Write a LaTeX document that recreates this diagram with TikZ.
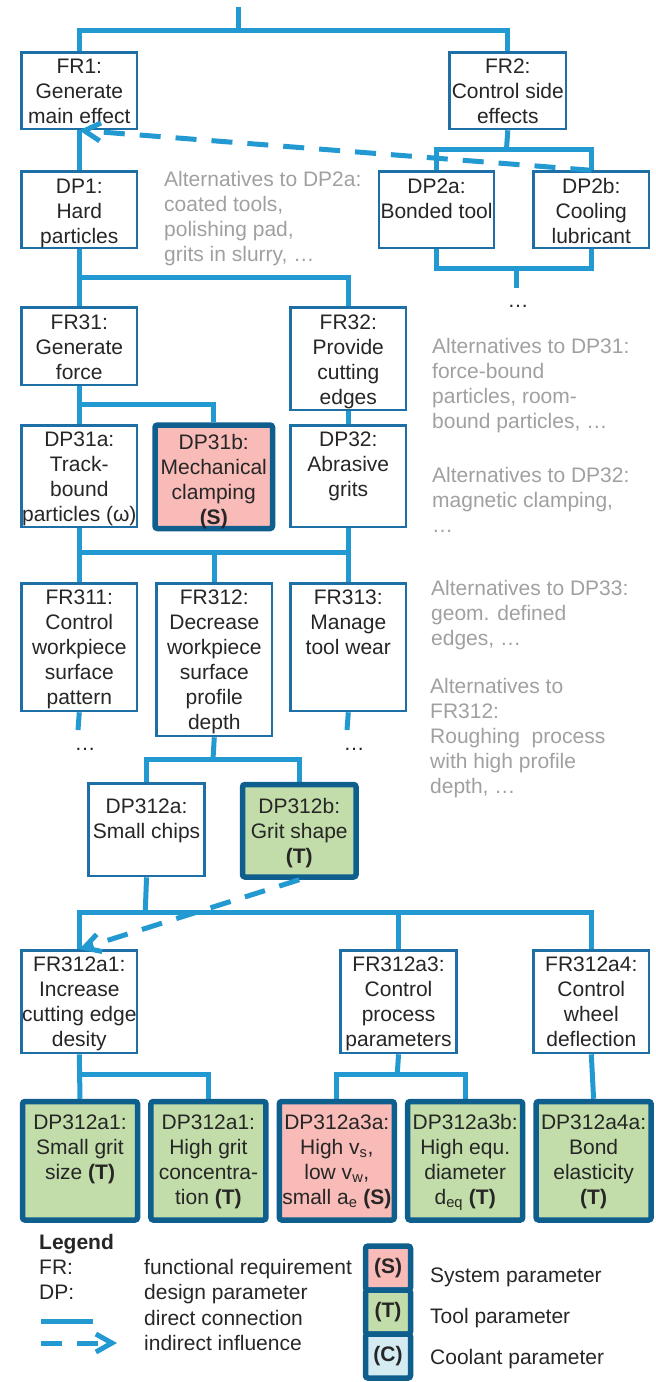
\documentclass[tikz,border=0pt]{standalone}
\usepackage{fontspec}
\setmainfont{Liberation Sans}
\usetikzlibrary{arrows.meta}
\definecolor{connc}{HTML}{2299D0}
\definecolor{boxc}{HTML}{1D6FA5}
\definecolor{thk}{HTML}{0E5F8E}
\definecolor{pinkf}{HTML}{F8BBB7}
\definecolor{greenf}{HTML}{C2DDA9}
\definecolor{bluef}{HTML}{D4EBF2}
\definecolor{txt}{HTML}{262626}
\definecolor{grayt}{HTML}{A0A0A0}
\pgfdeclarelayer{background}
\pgfsetlayers{background,main}
\newcommand\fs{\fontsize{21}{25}\selectfont}
\newcommand\TBox[8]{\node[#1,anchor=north west,xshift=1.3pt,yshift=-1.3pt] (#2) at (#3,#4) {\parbox[t][\dimexpr#6pt-2.6pt\relax][t]{\dimexpr#5pt-2.6pt\relax}{\centering\rule{0pt}{\dimexpr#7pt-1.3pt\relax}#8}};}
\newcommand\KBox[8]{\node[#1,anchor=north west,xshift=2.75pt,yshift=-2.75pt] (#2) at (#3,#4) {\parbox[t][\dimexpr#6pt-5.5pt\relax][t]{\dimexpr#5pt-5.5pt\relax}{\centering\rule{0pt}{\dimexpr#7pt-2.75pt\relax}#8}};}
\tikzset{
  tbx/.style={draw=boxc, line width=2.6pt, fill=white, inner sep=0pt, text=txt, font=\fs},
  kbx/.style={draw=thk, line width=5.5pt, rounded corners=2.5pt, inner sep=0pt, text=txt, font=\fs},
  pbx/.style={kbx, fill=pinkf},
  gbx/.style={kbx, fill=greenf},
  conn/.style={draw=connc, line width=5pt},
  dasharr/.style={draw=connc, line width=5pt, dash pattern=on 21pt off 15pt, -{Straight Barb[length=16pt,width=18pt]}},
  gtxt/.style={text=grayt, font=\fs, align=left, inner sep=0pt, anchor=north west},
  ltxt/.style={text=txt, font=\fs, inner sep=0pt, anchor=base west},
  dots/.style={text=txt, font=\fs, inner sep=0pt, anchor=base},
}
\begin{document}
\begin{tikzpicture}[x=1pt,y=-1pt]
\useasboundingbox (0,0) rectangle (656,1382);
% coordinates of buses and free ends
\coordinate (top) at (238,7);
\coordinate (b0) at (238,30);
\coordinate (b1) at (506.5,149);
\coordinate (b2) at (516,268);
\coordinate (e2) at (516,288);
\coordinate (b3) at (78,277.5);
\coordinate (b4) at (78,404);
\coordinate (b5) at (78,552.5);
\coordinate (d1) at (78,730);
\coordinate (d3) at (347,730);
\coordinate (b6) at (213,759);
\coordinate (b7) at (145.25,912);
\coordinate (b8) at (78,1074);
\coordinate (b9) at (397.25,1074);

% ---------- nodes ----------
\TBox{tbx}{fr1}{19}{50}{118}{79}{22}{FR1:\\Generate\\main~effect}
\TBox{tbx}{fr2}{447}{50}{119}{79}{22}{FR2:\\Control~side\\effects}
\TBox{tbx}{dp1}{19}{169}{118}{79}{23}{DP1:\\Hard\\particles}
\TBox{tbx}{dp2a}{376.5}{169}{117.5}{79}{23}{DP2a:\\Bonded~tool}
\TBox{tbx}{dp2b}{531}{169}{118}{79}{23}{DP2b:\\Cooling\\lubricant}
\TBox{tbx}{fr31}{19}{305}{118}{80}{23}{FR31:\\Generate\\force}
\TBox{tbx}{fr32}{288}{305}{118}{105}{23}{FR32:\\Provide\\cutting\\edges}
\TBox{tbx}{dp31a}{19}{423}{118}{104}{22}{DP31a:\\Track-\\bound\\particles~(ω)}
\KBox{pbx}{dp31b}{149.5}{419.5}{123}{109}{27}{DP31b:\\Mechanical\\clamping\\\textbf{(S)}}
\TBox{tbx}{dp32}{288}{423}{118}{104}{22}{DP32:\\Abrasive\\grits}
\TBox{tbx}{fr311}{19}{581}{118}{130}{22.5}{FR311:\\Control\\workpiece\\surface\\pattern}
\TBox{tbx}{fr312}{154}{581}{118}{155}{22.5}{FR312:\\Decrease\\workpiece\\surface\\profile\\depth}
\TBox{tbx}{fr313}{288}{581}{118}{130}{22.5}{FR313:\\Manage\\tool~wear}
\TBox{tbx}{dp312a}{86}{781}{118.5}{95}{31}{DP312a:\\Small~chips}
\KBox{gbx}{dp312b}{237}{779}{119}{98}{32}{DP312b:\\Grit~shape\\\textbf{(T)}}
\TBox{tbx}{fr312a1}{19}{948}{118}{105}{22}{FR312a1:\\Increase\\cutting~edge\\desity}
\TBox{tbx}{fr312a3}{338}{948}{118.5}{105}{22}{FR312a3:\\Control\\process\\parameters}
\TBox{tbx}{fr312a4}{531}{948}{118}{105}{22}{FR312a4:\\Control\\wheel\\deflection}
\KBox{gbx}{dp312a1}{17}{1096}{120.5}{124}{31}{DP312a1:\\Small~grit\\size~\textbf{(T)}}
\KBox{gbx}{dp312a1b}{145.4}{1096}{120.5}{124}{31}{DP312a1:\\High~grit\\concentra-\\tion~\textbf{(T)}}
\KBox{pbx}{dp312a3a}{273.8}{1096}{120.5}{124}{31}{DP312a3a:\\High~v\textsubscript{s},\\low~v\textsubscript{w},\\small~a\textsubscript{e}~\textbf{(S)}}
\KBox{gbx}{dp312a3b}{402.2}{1096}{120.5}{124}{31}{DP312a3b:\\High~equ.\\diameter\\d\textsubscript{eq}~\textbf{(T)}}
\KBox{gbx}{dp312a4a}{530.6}{1096}{120.5}{124}{31}{DP312a4a:\\Bond\\elasticity\\\textbf{(T)}}

% ---------- connectors (behind boxes) ----------
\begin{pgfonlayer}{background}
\draw[conn] (top) -- (b0);
\draw[conn] (fr1.north) |- (b0) -| (fr2.north);
\draw[conn] (fr1.south) -- (dp1.north);
\draw[conn] (fr2.south) -- (b1);
\draw[conn] (dp2a.north) |- (b1) -| (dp2b.north);
\draw[conn] (dp2a.south) |- (b2) -| (dp2b.south);
\draw[conn] (b2) -- (e2);
\draw[conn] (dp1.south) -- (fr31.north);
\draw[conn] (b3) -| (fr32.north);
\draw[conn] (fr31.south) -- (dp31a.north);
\draw[conn] (b4) -| (dp31b.north);
\draw[conn] (fr32.south) -- (dp32.north);
\draw[conn] (dp31a.south) -- (fr311.north);
\draw[conn] (dp32.south) -- (fr313.north);
\draw[conn] (b5) -- (b5 -| fr313.north);
\draw[conn] (b5 -| fr312.north) -- (fr312.north);
\draw[conn] (fr311.south) -- (d1);
\draw[conn] (fr313.south) -- (d3);
\draw[conn] (fr312.south) -- (b6);
\draw[conn] (dp312a.north) |- (b6) -| (dp312b.north);
\draw[conn] (dp312a.south) -- (b7);
\draw[conn] (fr312a1.north) |- (b7) -| (fr312a4.north);
\draw[conn] (b7 -| fr312a3.north) -- (fr312a3.north);
\draw[conn] (fr312a1.south) -- (dp312a1.north);
\draw[conn] (b8) -| (dp312a1b.north);
\draw[conn] (fr312a3.south) -- (b9);
\draw[conn] (dp312a3a.north) |- (b9) -| (dp312a3b.north);
\draw[conn] (fr312a4.south) -- (dp312a4a.north);
\end{pgfonlayer}

% ---------- indirect influences ----------
\draw[dasharr] (dp2b.north) -- (fr1.south);
\draw[dasharr] (dp312b.south) -- (fr312a1.north);

% ---------- dots ----------
\node[dots] (dt2) at (518,307) {…};
\node[dots] (dt311) at (85,750) {…};
\node[dots] (dt313) at (354,750) {…};

% ---------- alternatives ----------
\node[gtxt] (alt1) at (164,166) {\rule{0pt}{20pt}Alternatives to DP2a:\\coated tools,\\polishing pad,\\grits in slurry, …};
\node[gtxt] (alt2) at (432,333) {\rule{0pt}{20pt}Alternatives to DP31:\\force-bound\\particles, room-\\bound particles, …};
\node[gtxt] (alt3) at (432,462) {\rule{0pt}{20pt}Alternatives to DP32:\\magnetic clamping,\\…};
\node[gtxt] (alt4) at (431,575) {\rule{0pt}{20pt}Alternatives to DP33:\\geom. defined\\edges, …};
\node[gtxt] (alt5) at (430,673) {\rule{0pt}{20pt}Alternatives to\\FR312:\\Roughing\ \ process\\with high profile\\depth, …};

% ---------- legend ----------
\node[ltxt, font=\fs\bfseries] (lg) at (39,1249) {Legend};
\node[ltxt] (lfr) at (39,1274) {FR:};
\node[ltxt] (lfrt) at (144,1274) {functional requirement};
\node[ltxt] (ldp) at (39,1299) {DP:};
\node[ltxt] (ldpt) at (144,1299) {design parameter};
\coordinate (ls1) at (41,1321);
\coordinate (ls2) at (93,1321);
\draw[conn] (ls1) -- (ls2);
\node[ltxt] (ldc) at (144,1325) {direct connection};
\coordinate (ld1) at (41,1343);
\coordinate (ld2) at (117,1343);
\draw[dasharr] (ld1) -- (ld2);
\node[ltxt] (lii) at (144,1350) {indirect influence};
\node[kbx, fill=pinkf, minimum width=45pt, minimum height=44pt, font=\fs\bfseries] (lS) at (388,1268) {(S)};
\node[kbx, fill=greenf, minimum width=45pt, minimum height=44pt, font=\fs\bfseries] (lT) at (388,1312) {(T)};
\node[kbx, fill=bluef, minimum width=45pt, minimum height=44pt, font=\fs\bfseries] (lC) at (388,1356) {(C)};
\node[ltxt] (lSt) at (430,1282) {System parameter};
\node[ltxt] (lTt) at (430,1323) {Tool parameter};
\node[ltxt] (lCt) at (430,1364) {Coolant parameter};
\end{tikzpicture}
\end{document}
